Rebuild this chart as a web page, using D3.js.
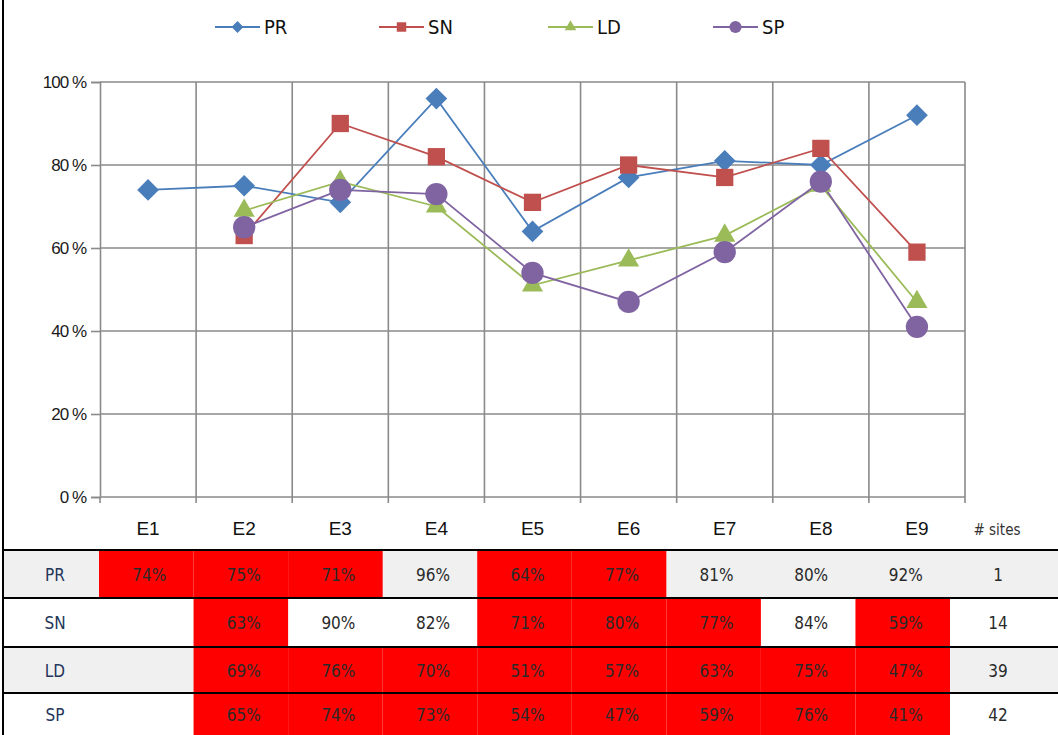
<!DOCTYPE html>
<html>
<head>
<meta charset="utf-8">
<script src="https://cdn.jsdelivr.net/npm/d3@7"></script>
<style>
  body { margin: 0; background: #fff; }
  svg { display: block; }
</style>
</head>
<body>
<svg id="chart" width="1058" height="735"></svg>
<script>
const categories = ["E1", "E2", "E3", "E4", "E5", "E6", "E7", "E8", "E9"];
const seriesNames = ["PR", "SN", "LD", "SP"];
const prValues = [74, 75, 71, 96, 64, 77, 81, 80, 92];
const snValues = [null, 63, 90, 82, 71, 80, 77, 84, 59];
const ldValues = [null, 69, 76, 70, 51, 57, 63, 75, 47];
const spValues = [null, 65, 74, 73, 54, 47, 59, 76, 41];
const siteCounts = [1, 14, 39, 42];
const yTicks = [0, 20, 40, 60, 80, 100];
// 1 = red cell in the table below the chart
const prRed = [1, 1, 1, 0, 1, 1, 0, 0, 0];
const snRed = [0, 1, 0, 0, 1, 1, 1, 0, 1];
const ldRed = [0, 1, 1, 1, 1, 1, 1, 1, 1];
const spRed = [0, 1, 1, 1, 1, 1, 1, 1, 1];

const colors = ["#4a7ebb", "#c0504d", "#9bbb59", "#8064a2"];
const symbols = [d3.symbolDiamond2, d3.symbolSquare2, d3.symbolTriangle2, d3.symbolCircle];
const symSize = [300, 380, 320, 390];

const allValues = [prValues, snValues, ldValues, spValues];
const allRed = [prRed, snRed, ldRed, spRed];

const narrow = "Liberation Sans Narrow, DejaVu Sans Condensed, Arial, sans-serif";

const svg = d3.select("#chart");

const x = d3.scaleBand().domain(categories).range([100, 965]);
const y = d3.scaleLinear().domain([0, 100]).range([497, 82]);

// left border of the page
svg.append("line")
    .attr("x1", 3).attr("x2", 3)
    .attr("y1", 0).attr("y2", 735)
    .attr("stroke", "#000")
    .attr("stroke-width", 2);

// horizontal gridlines
svg.append("g")
    .selectAll("line")
    .data(yTicks)
    .join("line")
    .attr("x1", 100).attr("x2", 965)
    .attr("y1", d => y(d)).attr("y2", d => y(d))
    .attr("stroke", "#8a8a8a")
    .attr("stroke-width", 1.6);

// vertical gridlines at category boundaries
svg.append("g")
    .selectAll("line")
    .data(categories)
    .join("line")
    .attr("x1", d => x(d) + x.bandwidth()).attr("x2", d => x(d) + x.bandwidth())
    .attr("y1", y(100)).attr("y2", y(0))
    .attr("stroke", "#8a8a8a")
    .attr("stroke-width", 1.6);

// y axis
const yAxis = svg.append("g")
    .attr("transform", "translate(100,0)")
    .call(d3.axisLeft(y).tickValues(yTicks).tickSize(9).tickPadding(5).tickFormat(d => d + " %"));
yAxis.select(".domain").attr("stroke", "#8a8a8a").attr("stroke-width", 1.6);
yAxis.selectAll(".tick line").attr("stroke", "#8a8a8a").attr("stroke-width", 1.6);
yAxis.selectAll("text")
    .attr("font-family", "Liberation Sans, Arial, sans-serif")
    .attr("font-size", 17)
    .attr("letter-spacing", -1)
    .attr("fill", "#1a1a1a");

// x axis ticks at boundaries
svg.append("g")
    .selectAll("line")
    .data([categories[0]].concat(categories))
    .join("line")
    .attr("x1", (d, i) => i === 0 ? x(d) : x(d) + x.bandwidth())
    .attr("x2", (d, i) => i === 0 ? x(d) : x(d) + x.bandwidth())
    .attr("y1", y(0)).attr("y2", y(0) + 6)
    .attr("stroke", "#8a8a8a")
    .attr("stroke-width", 1.6);

// x labels
svg.append("g")
    .selectAll("text")
    .data(categories)
    .join("text")
    .attr("x", d => x(d) + x.bandwidth() / 2)
    .attr("y", 535)
    .attr("text-anchor", "middle")
    .attr("font-family", "Liberation Sans, Arial, sans-serif")
    .attr("font-size", 19)
    .attr("fill", "#111")
    .text(d => d);

// series lines and markers
const line = d3.line()
    .defined(d => d != null)
    .x((d, i) => x(categories[i]) + x.bandwidth() / 2)
    .y(d => y(d));

allValues.forEach((vals, s) => {
    svg.append("path")
        .datum(vals)
        .attr("d", line)
        .attr("fill", "none")
        .attr("stroke", colors[s])
        .attr("stroke-width", 1.8);
});
allValues.forEach((vals, s) => {
    svg.append("g")
        .selectAll("path")
        .data(vals.map((v, i) => ({ v, c: categories[i] })).filter(d => d.v != null))
        .join("path")
        .attr("d", d3.symbol().type(symbols[s]).size(symSize[s]))
        .attr("transform", d => `translate(${x(d.c) + x.bandwidth() / 2},${y(d.v)})`)
        .attr("fill", colors[s]);
});

// legend
const legendX = [215, 379, 548, 713];
const legend = svg.append("g");
seriesNames.forEach((name, s) => {
    const g = legend.append("g").attr("transform", `translate(${legendX[s]},27)`);
    g.append("line")
        .attr("x1", 0).attr("x2", 45)
        .attr("stroke", colors[s])
        .attr("stroke-width", 2);
    g.append("path")
        .attr("d", d3.symbol().type(symbols[s]).size(symSize[s] * 0.3))
        .attr("transform", "translate(22.5,0)")
        .attr("fill", colors[s]);
    g.append("text")
        .attr("x", 49)
        .attr("y", 7)
        .attr("font-family", narrow)
        .attr("font-size", 20)
        .attr("fill", "#111")
        .text(name);
});

// table under the chart
const tx = d3.scaleBand().domain(categories).range([99, 950]);
const rowTop = [551, 599, 648, 694];
const rowBottom = [598, 647, 693, 735];
const table = svg.append("g");

table.append("text")
    .attr("x", 997)
    .attr("y", 535)
    .attr("text-anchor", "middle")
    .attr("font-family", narrow)
    .attr("font-size", 15)
    .attr("fill", "#333")
    .text("# sites");

seriesNames.forEach((name, r) => {
    const top = rowTop[r];
    const h = rowBottom[r] - top;
    const base = r % 2 === 0 ? "#f0f0f0" : "#ffffff";
    const cy = top + h / 2 + 6;
    table.append("rect")
        .attr("x", 4).attr("y", top)
        .attr("width", 1054).attr("height", h)
        .attr("fill", base);
    table.append("g")
        .selectAll("rect")
        .data(categories.filter((c, i) => allRed[r][i]))
        .join("rect")
        .attr("x", d => tx(d))
        .attr("y", top)
        .attr("width", tx.bandwidth())
        .attr("height", h)
        .attr("fill", "#ff0000");
    table.append("text")
        .attr("x", 55).attr("y", cy)
        .attr("text-anchor", "middle")
        .attr("font-family", narrow)
        .attr("font-size", 17)
        .attr("fill", "#24365a")
        .text(name);
    table.append("g")
        .selectAll("text")
        .data(allValues[r].map((v, i) => ({ v, c: categories[i] })).filter(d => d.v != null))
        .join("text")
        .attr("x", d => tx(d.c) + tx.bandwidth() / 2 + 3)
        .attr("y", cy)
        .attr("text-anchor", "middle")
        .attr("font-family", narrow)
        .attr("font-size", 17)
        .attr("fill", "#2a2a2a")
        .text(d => d.v + "%");
    table.append("text")
        .attr("x", 998).attr("y", cy)
        .attr("text-anchor", "middle")
        .attr("font-family", narrow)
        .attr("font-size", 17)
        .attr("fill", "#2a2a2a")
        .text(siteCounts[r]);
    table.append("line")
        .attr("x1", 4).attr("x2", 1058)
        .attr("y1", top - 1).attr("y2", top - 1)
        .attr("stroke", "#000")
        .attr("stroke-width", 2);
});
</script>
</body>
</html>
